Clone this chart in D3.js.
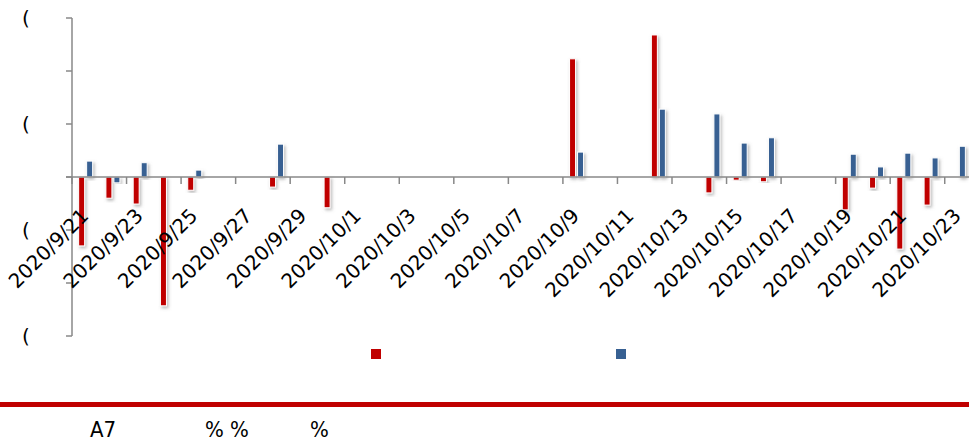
<!DOCTYPE html>
<html>
<head>
<meta charset="utf-8">
<script src="https://cdn.jsdelivr.net/npm/d3@7"></script>
<style>
  body { margin: 0; background: #fff; }
  svg { font-family: "DejaVu Sans", sans-serif; }
</style>
</head>
<body>
<svg id="dessin" width="969" height="444"></svg>
<script>
let dates = ["2020/9/21","2020/9/22","2020/9/23","2020/9/24","2020/9/25","2020/9/26","2020/9/27",
  "2020/9/28","2020/9/29","2020/9/30","2020/10/1","2020/10/2","2020/10/3","2020/10/4","2020/10/5",
  "2020/10/6","2020/10/7","2020/10/8","2020/10/9","2020/10/10","2020/10/11","2020/10/12","2020/10/13",
  "2020/10/14","2020/10/15","2020/10/16","2020/10/17","2020/10/18","2020/10/19","2020/10/20",
  "2020/10/21","2020/10/22","2020/10/23"];
let serieRouge = [-1.30,-0.40,-0.51,-2.43,-0.25,0,0,-0.19,0,-0.58,0,0,0,0,0,0,0,0,2.23,0,0,2.68,0,
  -0.30,-0.06,-0.09,0,0,-0.62,-0.21,-1.36,-0.53,0];
let serieBleue = [0.30,-0.11,0.27,0,0.13,0,0,0.62,0,0,0,0,0,0,0,0,0,0,0.47,0,0,1.28,0,
  1.19,0.64,0.74,0,0,0.43,0.19,0.45,0.36,0.58];
let tickValeurs = [3,2,1,0,-1,-2,-3];
let tickLabels = ["(","","(","","(","","("];
let legende = ["",""];

const rouge = "#c00000", bleu = "#376092";
const svg = d3.select("#dessin");

const defs = svg.append("defs");
defs.append("filter").attr("id","ombre")
  .attr("x","-100%").attr("y","-20%").attr("width","300%").attr("height","140%")
  .append("feDropShadow")
  .attr("dx",1.5).attr("dy",2).attr("stdDeviation",1.6)
  .attr("flood-color","#777").attr("flood-opacity",0.5);

const x = d3.scaleBand().domain(dates).range([72, 972]);
const y = d3.scaleLinear().domain([-3, 3]).range([336, 18]);
const bw = 6;

// axe Y
const gy = svg.append("g");
gy.append("line").attr("x1",72).attr("x2",72).attr("y1",y(3)).attr("y2",y(-3))
  .attr("stroke","#888").attr("stroke-width",1.5);
gy.selectAll(".t").data(tickValeurs).enter().append("line")
  .attr("x1",66).attr("x2",72).attr("y1",d=>y(d)).attr("y2",d=>y(d))
  .attr("stroke","#888").attr("stroke-width",1.5);
gy.selectAll("text").data(tickValeurs).enter().append("text")
  .attr("x",22).attr("y",d=>y(d)+7)
  .style("font-size","20px").text((d,i)=>tickLabels[i]);

// barres
const paires = svg.selectAll(".paire").data(dates).enter().append("g").attr("class","paire");
paires.append("rect")
  .attr("x",d=>x(d)+x.bandwidth()/2-bw-1)
  .attr("width",bw)
  .attr("y",(d,i)=>y(Math.max(0,serieRouge[i])))
  .attr("height",(d,i)=>Math.abs(y(serieRouge[i])-y(0)))
  .attr("fill",rouge).attr("stroke","#fff").attr("stroke-width",1)
  .attr("filter","url(#ombre)");
paires.append("rect")
  .attr("x",d=>x(d)+x.bandwidth()/2+1)
  .attr("width",bw)
  .attr("y",(d,i)=>y(Math.max(0,serieBleue[i])))
  .attr("height",(d,i)=>Math.abs(y(serieBleue[i])-y(0)))
  .attr("fill",bleu).attr("stroke","#fff").attr("stroke-width",1)
  .attr("filter","url(#ombre)");

// axe X
const gx = svg.append("g");
gx.append("line").attr("x1",66).attr("x2",972).attr("y1",y(0)).attr("y2",y(0))
  .attr("stroke","#888").attr("stroke-width",1.5);
gx.selectAll(".t").data(dates.filter((d,i)=>i%2==0)).enter().append("line")
  .attr("x1",d=>x(d)).attr("x2",d=>x(d)).attr("y1",y(0)).attr("y2",y(0)+7)
  .attr("stroke","#888").attr("stroke-width",1.5);
gx.selectAll("text").data(dates.filter((d,i)=>i%2==0)).enter().append("text")
  .attr("transform",d=>`translate(${x(d)+x.bandwidth()/2+4},${y(0)+40}) rotate(-45)`)
  .attr("text-anchor","end")
  .style("font-size","20px").text(d=>d);

// légende
const lg = svg.append("g");
[rouge, bleu].forEach((c,i)=>{
  lg.append("rect").attr("x",371+i*245).attr("y",349).attr("width",10).attr("height",10).attr("fill",c);
  lg.append("text").attr("x",386+i*245).attr("y",359).style("font-size","14px").text(legende[i]);
});

// bas de page
svg.append("rect").attr("x",0).attr("y",402).attr("width",969).attr("height",5).attr("fill",rouge);
const bas = [["A7",90],["%",205],["%",230],["%",310]];
svg.selectAll(".bas").data(bas).enter().append("text")
  .attr("x",d=>d[1]).attr("y",437)
  .style("font-size","22px").style("font-family","'Liberation Sans Narrow', 'DejaVu Sans Condensed', sans-serif")
  .text(d=>d[0]);
</script>
</body>
</html>
